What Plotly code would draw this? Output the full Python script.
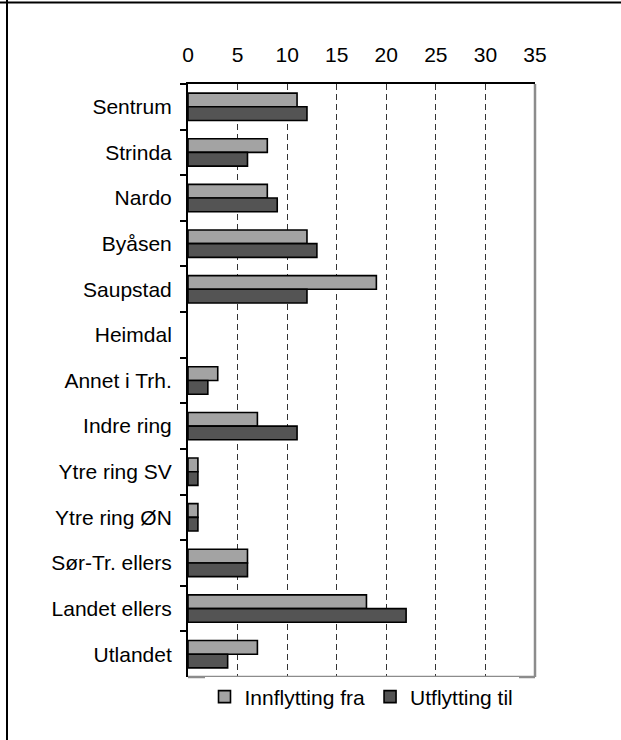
import plotly.graph_objs as go

regions = ["Sentrum", "Strinda", "Nardo", "Byåsen", "Saupstad", "Heimdal",
           "Annet i Trh.", "Indre ring", "Ytre ring SV", "Ytre ring ØN",
           "Sør-Tr. ellers", "Landet ellers", "Utlandet"]
innflytting = [11, 8, 8, 12, 19, 0, 3, 7, 1, 1, 6, 18, 7]
utflytting = [12, 6, 9, 13, 12, 0, 2, 11, 1, 1, 6, 22, 4]
xticks = [0, 5, 10, 15, 20, 25, 30, 35]

W, H = 621, 740
L, R, T, B = 188, 86, 84, 63
pw, ph = W - L - R, H - T - B

def px_x(x):
    return (x - L) / pw

def px_y(y):
    return 1 - (y - T) / ph

# no outline on empty bars (Heimdal)
fra_trace = go.Bar(
    name="Innflytting fra",
    y=regions, x=innflytting, orientation='h',
    marker=dict(color='#a3a3a3',
                line=dict(color='black', width=[1.6 if v else 0 for v in innflytting])))
til_trace = go.Bar(
    name="Utflytting til",
    y=regions, x=utflytting, orientation='h',
    marker=dict(color='#545454',
                line=dict(color='black', width=[1.6 if v else 0 for v in utflytting])))

layout = go.Layout(
    width=W, height=H, autosize=False,
    margin=dict(l=L, r=R, t=T, b=B, pad=0),
    paper_bgcolor='white', plot_bgcolor='white',
    font=dict(family="Liberation Sans, Arial", size=21, color='black'),
    barmode='group', bargap=0.4, bargroupgap=0,
    xaxis=dict(
        side='top', range=[0, 35], tickvals=xticks,
        showgrid=True, gridcolor='#333333', griddash='6px,4px', gridwidth=1,
        zeroline=False, showline=True, linecolor='black', linewidth=2,
        ticks='', ticklabelstandoff=12, fixedrange=True),
    yaxis=dict(
        autorange='reversed', type='category',
        showline=True, linecolor='black', linewidth=2,
        ticks='outside', tickson='boundaries', ticklen=6, tickcolor='black', tickwidth=1.5,
        ticklabelstandoff=10, showgrid=False, fixedrange=True),
    legend=dict(orientation='h', x=0.5, xanchor='center', y=px_y(697), yanchor='middle',
                font=dict(size=21), itemwidth=30, traceorder='normal'),
    shapes=[
        # grey right and bottom borders of the plot area
        dict(type='line', xref='paper', yref='paper', x0=1, x1=1, y0=0, y1=1,
             line=dict(color='#8c8c8c', width=2.5)),
        dict(type='line', xref='paper', yref='paper', x0=0, x1=1, y0=0, y1=0,
             line=dict(color='#8c8c8c', width=2.5)),
        # outer frame of the page
        dict(type='line', xref='paper', yref='paper', x0=px_x(0), x1=px_x(W),
             y0=px_y(2.5), y1=px_y(2.5), line=dict(color='black', width=2)),
        dict(type='line', xref='paper', yref='paper', x0=px_x(7), x1=px_x(7),
             y0=px_y(0), y1=px_y(H), line=dict(color='black', width=2)),
    ])

fig = go.Figure(data=[fra_trace, til_trace], layout=layout)
fig.write_html("out.html", config={'displayModeBar': False},
               post_script="document.body.style.margin='0';")
